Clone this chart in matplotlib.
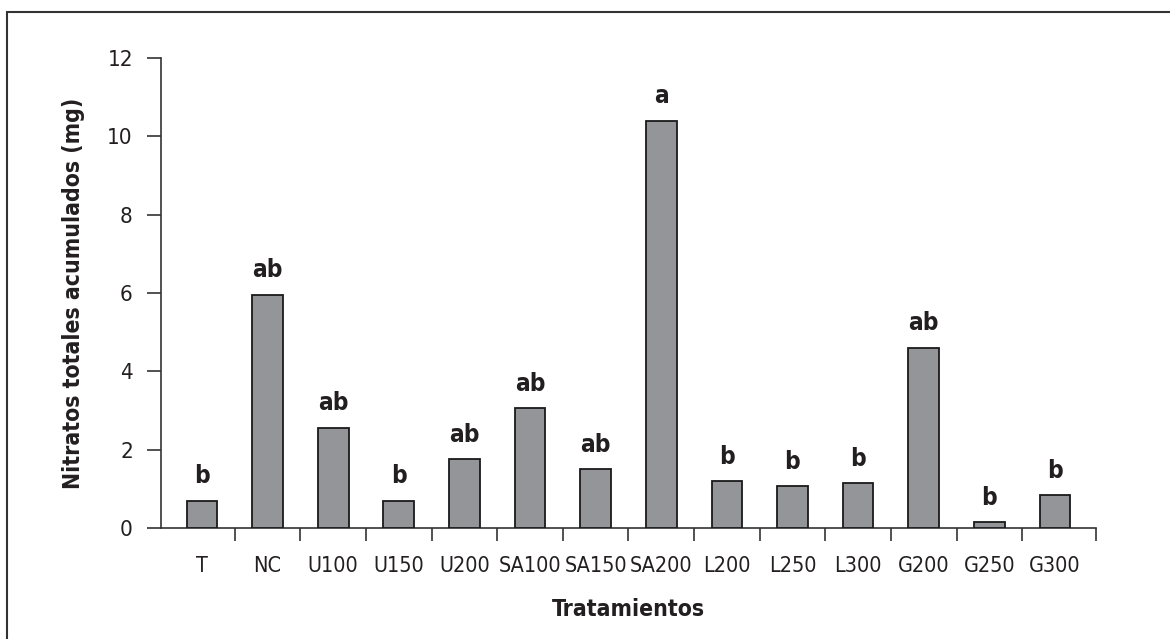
import matplotlib
matplotlib.use("Agg")
import matplotlib.pyplot as plt
from matplotlib.patches import Rectangle
import numpy as np

plt.rcParams['font.family'] = ['DejaVu Sans']
plt.rcParams['font.stretch'] = 'condensed'

# datos
tratamientos = ['T', 'NC', 'U100', 'U150', 'U200', 'SA100', 'SA150', 'SA200',
                'L200', 'L250', 'L300', 'G200', 'G250', 'G300']
nitratos = [0.70, 5.95, 2.56, 0.70, 1.76, 3.06, 1.50, 10.40,
            1.20, 1.07, 1.14, 4.60, 0.15, 0.83]
letras = ['b', 'ab', 'ab', 'b', 'ab', 'ab', 'ab', 'a',
          'b', 'b', 'b', 'ab', 'b', 'b']

fig = plt.figure(figsize=(11.7, 6.39), dpi=100)
ax = fig.add_axes([0.1373, 0.1737, 0.7997, 0.7355])

x = np.arange(len(tratamientos))
ax.bar(x, nitratos, width=0.467, color='#939598', edgecolor='#1a1a1a', linewidth=1.3, zorder=3)

# letras de significancia sobre las barras
for xi, v, l in zip(x, nitratos, letras):
    ax.annotate(l, (xi, v), xytext=(0, 9), textcoords='offset points',
                ha='center', va='bottom', fontsize=17.5, fontweight='bold', color='#231f20')

ax.set_xlim(-0.63, 13.63)
ax.set_ylim(0, 12)
ax.set_yticks(np.arange(0, 13, 2))

ax.set_xticks(x)
ax.set_xticklabels(tratamientos)
ax.set_xticks(list(np.arange(len(tratamientos) - 1) + 0.5) + [13.63], minor=True)
ax.tick_params(axis='x', which='major', length=0, pad=20, labelsize=15.5, colors='#231f20')
ax.tick_params(axis='x', which='minor', length=9, width=1.2, direction='out', color='#333333')
ax.tick_params(axis='y', length=10, width=1.2, direction='out', pad=10, labelsize=16,
               colors='#231f20', color='#333333')

for s in ['top', 'right']:
    ax.spines[s].set_visible(False)
for s in ['left', 'bottom']:
    ax.spines[s].set_color('#333333')
    ax.spines[s].set_linewidth(1.2)

ax.set_ylabel('Nitratos totales acumulados (mg)', fontsize=16.5, fontweight='bold',
              color='#231f20', labelpad=16)
ax.set_xlabel('Tratamientos', fontsize=16.5, fontweight='bold', color='#231f20', labelpad=16)

# marco de la figura
fig.patches.append(Rectangle((0.006, -0.02), 1.1, 1.001, transform=fig.transFigure,
                             fill=False, edgecolor='#333333', linewidth=1.5, clip_on=False))

fig.savefig('out.png', dpi=100)
